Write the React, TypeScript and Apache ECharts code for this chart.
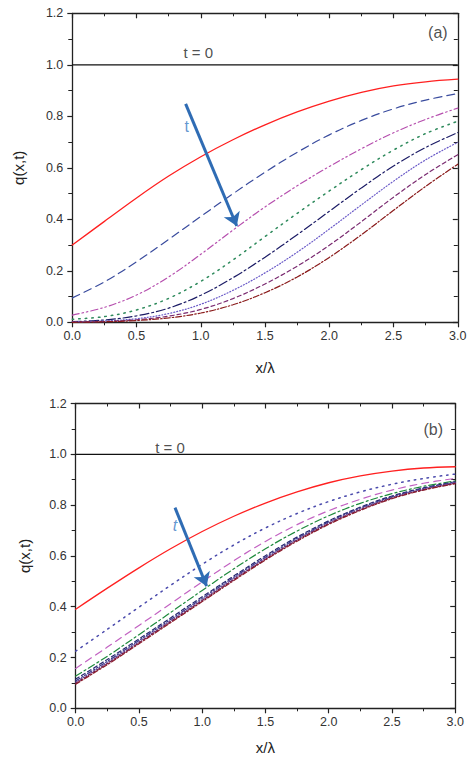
import React, { useEffect, useRef } from "react";
import * as echarts from "echarts";

// x positions (x/λ)
const xs = [0, 0.25, 0.5, 0.75, 1.0, 1.25, 1.5, 1.75, 2.0, 2.25, 2.5, 2.75, 3.0];

// Panel (a)
const a1 = [0.30, 0.392, 0.483, 0.568, 0.643, 0.709, 0.767, 0.817, 0.859, 0.893, 0.918, 0.934, 0.944];
const a2 = [0.095, 0.157, 0.235, 0.322, 0.411, 0.499, 0.583, 0.66, 0.728, 0.784, 0.829, 0.863, 0.888];
const a3 = [0.028, 0.058, 0.106, 0.176, 0.264, 0.358, 0.448, 0.53, 0.605, 0.674, 0.736, 0.788, 0.832];
const a4 = [0.012, 0.022, 0.048, 0.093, 0.159, 0.242, 0.333, 0.423, 0.51, 0.593, 0.669, 0.733, 0.781];
const a5 = [0.003, 0.009, 0.025, 0.055, 0.105, 0.173, 0.253, 0.34, 0.431, 0.522, 0.607, 0.679, 0.737];
const a6 = [0.002, 0.005, 0.014, 0.034, 0.07, 0.124, 0.192, 0.272, 0.362, 0.456, 0.548, 0.631, 0.699];
const a7 = [0.001, 0.003, 0.01, 0.024, 0.05, 0.092, 0.149, 0.218, 0.299, 0.391, 0.486, 0.574, 0.651];
const a8 = [0.0, 0.002, 0.007, 0.017, 0.036, 0.068, 0.115, 0.176, 0.252, 0.34, 0.435, 0.528, 0.614];

// Panel (b)
const b1 = [0.39, 0.473, 0.553, 0.628, 0.696, 0.756, 0.808, 0.852, 0.888, 0.915, 0.934, 0.946, 0.951];
const b2 = [0.225, 0.311, 0.398, 0.484, 0.567, 0.643, 0.71, 0.767, 0.814, 0.852, 0.882, 0.905, 0.922];
const b3 = [0.157, 0.241, 0.326, 0.412, 0.498, 0.581, 0.657, 0.723, 0.778, 0.823, 0.859, 0.886, 0.905];
const b4 = [0.127, 0.205, 0.29, 0.377, 0.464, 0.549, 0.628, 0.698, 0.758, 0.807, 0.845, 0.874, 0.895];
const b5 = [0.115, 0.192, 0.273, 0.356, 0.439, 0.521, 0.601, 0.674, 0.738, 0.792, 0.836, 0.868, 0.892];
const b6 = [0.108, 0.185, 0.267, 0.35, 0.433, 0.516, 0.595, 0.669, 0.734, 0.789, 0.833, 0.866, 0.89];
const b7 = [0.103, 0.18, 0.262, 0.345, 0.428, 0.511, 0.591, 0.665, 0.73, 0.785, 0.83, 0.863, 0.888];
const b8 = [0.099, 0.176, 0.258, 0.341, 0.424, 0.507, 0.587, 0.662, 0.727, 0.782, 0.828, 0.861, 0.886];
const b9 = [0.095, 0.172, 0.254, 0.337, 0.42, 0.503, 0.584, 0.658, 0.724, 0.779, 0.825, 0.859, 0.884];

const t0 = [1.0, 1.0];
const t0x = [0, 3];

const FONT = "Liberation Sans, Arial, Helvetica, sans-serif";

function line(vals: number[], color: string, type: any, gi: number, width = 1.2) {
  return {
    type: "line",
    xAxisIndex: gi * 2,
    yAxisIndex: gi * 2,
    data: xs.map((x, i) => [x, vals[i]]),
    showSymbol: false,
    symbol: "none",
    smooth: 0.35,
    silent: true,
    lineStyle: { color, width, type, cap: "round" },
  };
}

function xAxes(gi: number, nameGap: number) {
  const common = {
    gridIndex: gi,
    type: "value",
    min: 0,
    max: 3,
    interval: 0.5,
    splitLine: { show: false },
    axisLine: { show: true, onZero: false, lineStyle: { color: "#222", width: 1.3 } },
  };
  return [
    {
      ...common,
      position: "bottom",
      name: "x/λ",
      nameLocation: "middle",
      nameGap,
      nameTextStyle: { fontFamily: FONT, fontSize: 15, color: "#222" },
      axisTick: { show: true, inside: false, length: 5, lineStyle: { color: "#222", width: 1.2 } },
      minorTick: { show: true, splitNumber: 2, length: 3, lineStyle: { color: "#222", width: 1 } },
      axisLabel: { fontFamily: FONT, fontSize: 12.5, color: "#333", margin: 7, formatter: (v: number) => v.toFixed(1) },
    },
    {
      ...common,
      position: "top",
      axisTick: { show: true, inside: true, length: 5, lineStyle: { color: "#222", width: 1.2 } },
      minorTick: { show: true, splitNumber: 2, length: 3, lineStyle: { color: "#222", width: 1 } },
      axisLabel: { show: false },
    },
  ];
}

function yAxes(gi: number, nameGap: number) {
  const common = {
    gridIndex: gi,
    type: "value",
    min: 0,
    max: 1.2,
    interval: 0.2,
    splitLine: { show: false },
    axisLine: { show: true, onZero: false, lineStyle: { color: "#222", width: 1.3 } },
  };
  return [
    {
      ...common,
      position: "left",
      name: "q(x,t)",
      nameLocation: "middle",
      nameGap,
      nameRotate: 90,
      nameTextStyle: { fontFamily: FONT, fontSize: 15, color: "#222" },
      axisTick: { show: true, inside: false, length: 5, lineStyle: { color: "#222", width: 1.2 } },
      minorTick: { show: true, splitNumber: 2, length: 4, lineStyle: { color: "#222", width: 1 } },
      axisLabel: { fontFamily: FONT, fontSize: 12.5, color: "#333", margin: 9, formatter: (v: number) => v.toFixed(1) },
    },
    {
      ...common,
      position: "right",
      axisTick: { show: true, inside: true, length: 5, lineStyle: { color: "#222", width: 1.2 } },
      minorTick: { show: true, splitNumber: 2, length: 4, lineStyle: { color: "#222", width: 1 } },
      axisLabel: { show: false },
    },
  ];
}

function textPoint(gi: number, x: number, y: number, text: string, color: string, size: number, italic = false) {
  return {
    type: "scatter",
    xAxisIndex: gi * 2,
    yAxisIndex: gi * 2,
    data: [[x, y]],
    symbolSize: 1,
    silent: true,
    itemStyle: { color: "rgba(0,0,0,0)" },
    label: {
      show: true,
      position: "inside",
      formatter: text,
      fontFamily: FONT,
      fontSize: size,
      fontStyle: italic ? "italic" : "normal",
      color,
    },
  };
}

function arrow(gi: number, from: number[], to: number[]) {
  return {
    type: "line",
    xAxisIndex: gi * 2,
    yAxisIndex: gi * 2,
    data: [],
    silent: true,
    markLine: {
      silent: true,
      symbol: ["none", "arrow"],
      symbolSize: 13,
      label: { show: false },
      lineStyle: { color: "#2f6cb4", width: 3, type: "solid" },
      data: [[{ coord: from }, { coord: to }]],
    },
  };
}

export default function App() {
  const ref = useRef<HTMLDivElement>(null);
  useEffect(() => {
    if (!ref.current) return;
    const chart = echarts.init(ref.current, null, { renderer: "svg" });
    const t0Series = (gi: number) => ({
      type: "line",
      xAxisIndex: gi * 2,
      yAxisIndex: gi * 2,
      data: t0x.map((x, i) => [x, t0[i]]),
      showSymbol: false,
      symbol: "none",
      silent: true,
      lineStyle: { color: "#111", width: 1.3 },
    });
    chart.setOption({
      animation: false,
      backgroundColor: "#fff",
      grid: [
        { left: 72.3, top: 13.3, width: 385.5, height: 309 },
        { left: 75.7, top: 403.5, width: 379.5, height: 304.8 },
      ],
      xAxis: [...xAxes(0, 38), ...xAxes(1, 32)],
      yAxis: [...yAxes(0, 46), ...yAxes(1, 44)],
      series: [
        t0Series(0),
        line(a1, "#ff2020", "solid", 0, 1.3),
        line(a2, "#3a4c9e", [8, 5], 0),
        line(a3, "#b64fae", [7, 3, 1.5, 3, 1.5, 3], 0),
        line(a4, "#2e8a5c", [1.5, 5], 0, 1.5),
        line(a5, "#1c1c66", [9, 3, 2, 3], 0),
        line(a6, "#6a5ac8", [1, 2], 0),
        line(a7, "#7a2a70", [4, 3], 0),
        line(a8, "#8a1a1a", [6, 2, 1.5, 2], 0),
        arrow(0, [0.882, 0.848], [1.28, 0.374]),
        textPoint(0, 0.98, 1.046, "t = 0", "#222", 15),
        textPoint(0, 2.845, 1.127, "(a)", "#222", 16),
        textPoint(0, 0.89, 0.76, "t", "#3a7cc4", 16),

        t0Series(1),
        line(b1, "#ff2020", "solid", 1, 1.3),
        line(b2, "#4a4aac", [1.5, 5], 1, 1.5),
        line(b3, "#c262c2", [7, 5], 1),
        line(b4, "#1e8a3c", [7, 3, 2, 3], 1),
        line(b5, "#26266e", [4, 3], 1),
        line(b6, "#3a3a8a", [5, 2, 1.5, 2, 1.5, 2], 1),
        line(b7, "#6a4aa0", [1, 2], 1),
        line(b8, "#6e2050", [3, 2], 1),
        line(b9, "#8b1a2a", [5, 2, 1.5, 2], 1),
        arrow(1, [0.785, 0.79], [1.035, 0.481]),
        textPoint(1, 0.745, 1.026, "t = 0", "#222", 15),
        textPoint(1, 2.827, 1.096, "(b)", "#222", 16),
        textPoint(1, 0.785, 0.72, "t", "#3a7cc4", 16, true),
      ],
    });
    return () => chart.dispose();
  }, []);
  return (
    <div
      ref={ref}
      style={{ position: "fixed", left: 0, top: 0, width: 474, height: 763, background: "#fff" }}
    />
  );
}
